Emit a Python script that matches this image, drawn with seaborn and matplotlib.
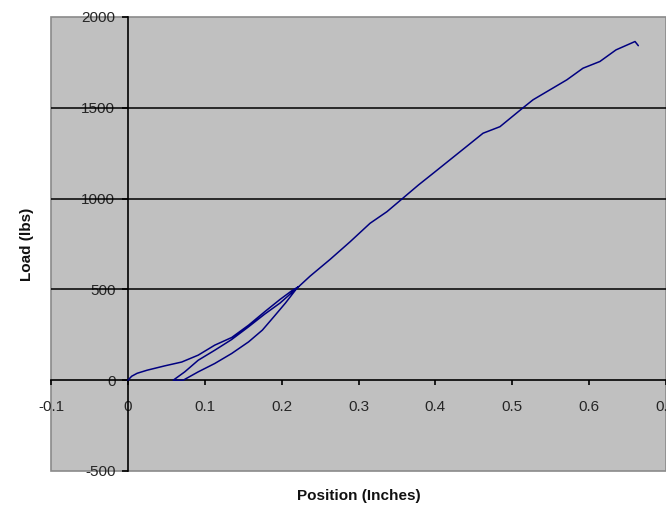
import matplotlib
matplotlib.use("Agg")
import matplotlib.pyplot as plt
from matplotlib.patches import Rectangle
import seaborn as sns
import pandas as pd

# Data (load path: loading, unloading, reloading)
position_in = [0.000, 0.005, 0.012, 0.025, 0.048, 0.070, 0.0915, 0.113, 0.135, 0.157,
               0.178, 0.198, 0.214, 0.222,
               0.210, 0.198, 0.178, 0.157, 0.135, 0.113, 0.0915, 0.074, 0.059,
               0.065, 0.072,
               0.0915, 0.113, 0.135, 0.157, 0.175, 0.190, 0.205, 0.2196, 0.237, 0.263,
               0.289, 0.315, 0.337, 0.3585, 0.378, 0.397, 0.440, 0.462, 0.484, 0.514,
               0.527, 0.571, 0.592, 0.614, 0.635, 0.6597, 0.664]
load_lbs = [0, 22, 38, 55, 79, 100, 138, 193, 235, 303,
            377, 445, 495, 515,
            470, 425, 364, 294, 224, 165, 110, 46, 0,
            0, 0,
            46, 92, 147, 211, 276, 350, 425, 505, 573, 665,
            762, 864, 928, 1005, 1075, 1139, 1285, 1360, 1396, 1500,
            1544, 1654, 1718, 1755, 1819, 1865, 1842]

x_ticks = [-0.1, 0, 0.1, 0.2, 0.3, 0.4, 0.5, 0.6, 0.7]
x_tick_labels = ["-0.1", "0", "0.1", "0.2", "0.3", "0.4", "0.5", "0.6", "0.7"]
y_ticks = [-500, 0, 500, 1000, 1500, 2000]
y_tick_labels = ["-500", "0", "500", "1000", "1500", "2000"]
grid_levels = [500, 1000, 1500]

df = pd.DataFrame({"Position (Inches)": position_in, "Load (lbs)": load_lbs})

sns.set_theme(style="white")
plt.rcParams["font.family"] = ["Liberation Sans", "DejaVu Sans"]

fig = plt.figure(figsize=(6.66, 5.08), dpi=100)
fig.patch.set_facecolor("white")
ax = fig.add_axes([51 / 666, 1 - 471 / 508, 615 / 666, 454 / 508])
ax.set_facecolor("#C0C0C0")

for g in grid_levels:
    ax.axhline(g, color="black", lw=1.1, zorder=1)

sns.lineplot(data=df, x="Position (Inches)", y="Load (lbs)", sort=False,
             estimator=None, color="#000080", lw=1.1, ax=ax, zorder=3)

ax.set_xlim(-0.1, 0.7)
ax.set_ylim(-500, 2000)

# Axis lines crossing at zero (Excel style)
ax.spines["left"].set_position(("data", 0))
ax.spines["bottom"].set_position(("data", 0))
for s in ["left", "bottom"]:
    ax.spines[s].set_color("black")
    ax.spines[s].set_linewidth(1.2)
    ax.spines[s].set_zorder(2)
for s in ["top", "right"]:
    ax.spines[s].set_visible(False)

ax.add_patch(Rectangle((0, 0), 1, 1, transform=ax.transAxes, fill=False,
                       edgecolor="#8a8a8a", lw=1.2, clip_on=False, zorder=0.5))

ax.set_xticks(x_ticks)
ax.set_xticklabels(x_tick_labels)
ax.set_yticks(y_ticks)
ax.set_yticklabels(y_tick_labels)
ax.tick_params(axis="x", direction="out", length=3.5, width=1.2, color="black",
               pad=11, labelsize=11, labelcolor="#262626", bottom=True)
ax.tick_params(axis="y", direction="out", length=4, width=1.2, color="black",
               pad=5, labelsize=11, labelcolor="#262626", left=True)

ax.set_xlabel("Position (Inches)", fontsize=11, fontweight="bold", color="#111111")
ax.set_ylabel("Load (lbs)", fontsize=11, fontweight="bold", color="#111111")
ax.xaxis.set_label_coords(0.5, -0.039)
ax.yaxis.set_label_coords(-0.028, 0.5)

fig.savefig("out.png", dpi=100)
